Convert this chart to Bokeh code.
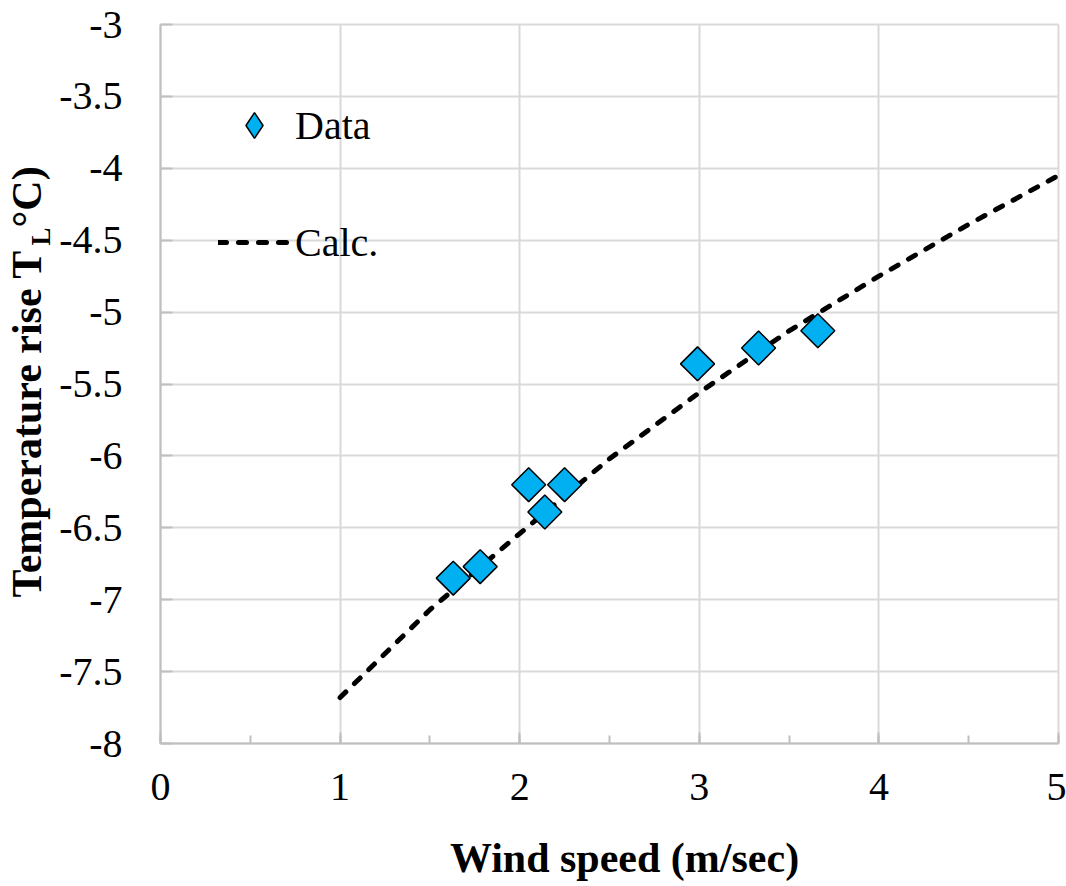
import math
from bokeh.plotting import figure
from bokeh.models import (Range1d, ColumnDataSource, Legend, LegendItem, Label,
                          FixedTicker, SingleIntervalTicker, CustomJSTickFormatter,
                          LinearAxis, Grid, BoxAnnotation)
from bokeh.embed import file_html
from bokeh.resources import INLINE

# ---- data ----
wind_speed = [1.63, 1.78, 2.05, 2.14, 2.25, 2.99, 3.33, 3.66]
temp_rise = [-6.85, -6.77, -6.20, -6.39, -6.20, -5.36, -5.25, -5.13]

calc_x = [1.0, 1.5, 2.0, 2.5, 3.0, 3.5, 4.0, 4.5, 5.0]
calc_y = [-7.68, -7.07, -6.54, -6.02, -5.56, -5.13, -4.75, -4.39, -4.05]

x_ticks = [0, 1, 2, 3, 4, 5]
y_ticks = [-8, -7.5, -7, -6.5, -6, -5.5, -5, -4.5, -4, -3.5, -3]
x_lim = (0, 5)
y_lim = (-8, -3)

FONT = "Liberation Serif"
GRID = "#d9d9d9"
AXIS = "#bfbfbf"

# layout (pixels) of the plotting area inside the 1066x886 canvas
W, H = 1066, 886
LEFT, RIGHT, TOP, BOTTOM = 160, 1058, 24, 743
xs = (RIGHT - LEFT) / (x_lim[1] - x_lim[0])
ys = (BOTTOM - TOP) / (y_lim[1] - y_lim[0])

p = figure(width=W, height=H, output_backend="svg", toolbar_location=None,
           x_axis_type=None, y_axis_type=None,
           x_range=Range1d(x_lim[0] - LEFT / xs, x_lim[1] + (W - RIGHT) / xs),
           y_range=Range1d(y_lim[0] - (H - BOTTOM) / ys, y_lim[1] + TOP / ys),
           min_border=0)
p.outline_line_color = None
p.background_fill_color = "white"
p.border_fill_color = "white"

# grids
xgrid = Grid(dimension=0, ticker=FixedTicker(ticks=x_ticks), bounds=x_lim,
             grid_line_color=GRID, grid_line_width=2)
ygrid = Grid(dimension=1, ticker=FixedTicker(ticks=y_ticks), bounds=y_lim,
             grid_line_color=GRID, grid_line_width=2)
if "cross_bounds" in Grid.properties():
    xgrid.cross_bounds = y_lim
    ygrid.cross_bounds = x_lim
    p.add_layout(xgrid, "center")
    p.add_layout(ygrid, "center")
else:
    p.add_layout(xgrid, "center")
    p.add_layout(ygrid, "center")
    mask = dict(fill_color="white", fill_alpha=1, line_color=None, level="underlay")
    p.add_layout(BoxAnnotation(right=x_lim[0], **mask))
    p.add_layout(BoxAnnotation(left=x_lim[1], **mask))
    p.add_layout(BoxAnnotation(top=y_lim[0], **mask))
    p.add_layout(BoxAnnotation(bottom=y_lim[1], **mask))

# calc line
calc_r = p.line(calc_x, calc_y, line_color="black", line_width=5,
                line_dash="8 12", line_cap="round")

# data diamonds
src = ColumnDataSource(dict(x=wind_speed, y=temp_rise))
data_r = p.scatter("x", "y", source=src, marker="square", size=24,
                   angle=math.pi / 4, fill_color="#00b0f0",
                   line_color="black", line_width=1.5)

# legend-only renderer (diamond symbol)
leg_src = ColumnDataSource(dict(x=[float("nan")], y=[float("nan")]))
leg_r = p.scatter("x", "y", source=leg_src, marker="diamond", size=24,
                  fill_color="#00b0f0", line_color="black", line_width=1.5)

legend = Legend(items=[LegendItem(label="Data", renderers=[leg_r]),
                       LegendItem(label="Calc.", renderers=[calc_r])],
                location=(218, 612), orientation="vertical")
legend.border_line_color = None
legend.background_fill_alpha = 0
legend.padding = 0
legend.margin = 0
legend.glyph_width = 72
legend.glyph_height = 64
legend.label_height = 64
legend.spacing = 53
legend.label_standoff = 5
legend.label_text_font = FONT
legend.label_text_font_size = "40px"
legend.label_text_color = "black"
p.add_layout(legend, "center")

fmt = CustomJSTickFormatter(code="return String(tick);")

xaxis = LinearAxis(fixed_location=y_lim[0], bounds=x_lim,
                   ticker=SingleIntervalTicker(interval=1, num_minor_ticks=2))
yaxis = LinearAxis(fixed_location=x_lim[0], bounds=y_lim,
                   ticker=FixedTicker(ticks=y_ticks))
for ax in (xaxis, yaxis):
    ax.formatter = fmt
    ax.axis_line_color = AXIS
    ax.axis_line_width = 2
    ax.major_tick_line_color = AXIS
    ax.major_tick_line_width = 2
    ax.minor_tick_line_color = AXIS
    ax.minor_tick_line_width = 2
    ax.major_tick_out = 0
    ax.minor_tick_out = 0
    ax.major_label_text_font = FONT
    ax.major_label_text_font_size = "40px"
    ax.major_label_text_color = "black"

xaxis.major_tick_in = 11
xaxis.minor_tick_in = 8
xaxis.major_label_standoff = 30

yaxis.major_tick_in = 12
yaxis.minor_tick_in = 0
yaxis.minor_tick_line_color = None
yaxis.major_label_standoff = 38

p.add_layout(xaxis, "below")
p.add_layout(yaxis, "left")

# axis titles
title_style = dict(x_units="screen", y_units="screen", text_font=FONT,
                   text_font_style="bold", text_baseline="alphabetic",
                   text_color="black")
p.add_layout(Label(x=624, y=H - 857, text="Wind speed (m/sec)",
                   text_font_size="42px", text_align="center", **title_style))

yl_x = 26
p.add_layout(Label(x=yl_x, y=H - 597, angle=math.pi / 2, text="Temperature rise T",
                   text_font_size="42px", text_align="left", **title_style))
p.add_layout(Label(x=yl_x + 14, y=H - 245, angle=math.pi / 2, text="L",
                   text_font_size="27px", text_align="left", **title_style))
p.add_layout(Label(x=yl_x, y=H - 227, angle=math.pi / 2, text="°C)",
                   text_font_size="42px", text_align="left", **title_style))

open("out.html", "w").write(file_html(p, INLINE))
